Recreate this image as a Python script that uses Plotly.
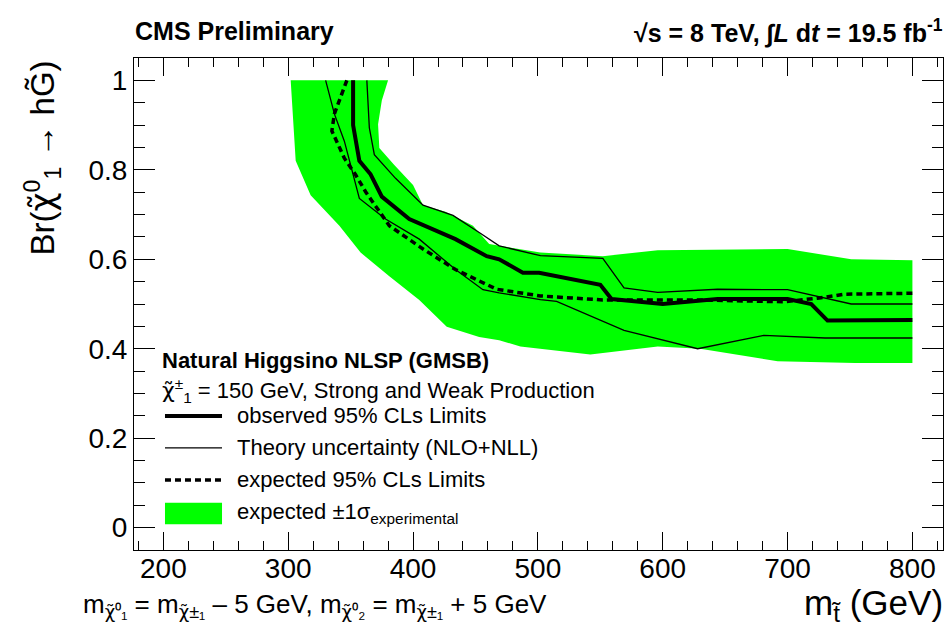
import plotly.graph_objects as go

# ---- data ----
# expected +-1 sigma band: lower/left edge (left -> right) and upper/right edge (right -> left)
band_lo_x = [302, 304.5, 306, 318, 341, 358, 381, 405, 427, 453, 469, 486, 502, 542, 596, 630, 692, 754, 800]
band_lo_y = [1.0, 0.887, 0.82, 0.743, 0.675, 0.615, 0.562, 0.509, 0.449, 0.426, 0.419, 0.405, 0.40, 0.387, 0.405, 0.40, 0.372, 0.368, 0.368]
band_hi_x = [800, 751, 700, 596, 552, 502, 480, 461, 448, 426, 408, 400, 385, 373, 372, 375, 380]
band_hi_y = [0.598, 0.60, 0.623, 0.620, 0.607, 0.615, 0.626, 0.634, 0.675, 0.706, 0.721, 0.766, 0.811, 0.849, 0.902, 0.955, 1.0]

# observed 95% CLs limit
obs_x = [352, 352, 357, 366, 375, 397, 434, 459, 469, 488, 501, 550, 559, 600, 644, 700, 719, 732, 800]
obs_y = [1.0, 0.90, 0.82, 0.79, 0.74, 0.69, 0.645, 0.607, 0.60, 0.57, 0.57, 0.543, 0.511, 0.50, 0.511, 0.511, 0.50, 0.463, 0.464]

# theory uncertainty (upper / lower)
thu_x = [363, 365, 369, 386, 408, 432, 453, 464, 469, 502, 552, 569, 596, 644, 700, 751, 800]
thu_y = [1.0, 0.894, 0.834, 0.781, 0.721, 0.698, 0.66, 0.638, 0.63, 0.608, 0.602, 0.536, 0.526, 0.533, 0.532, 0.50, 0.50]
thl_x = [330, 337, 345, 357, 378, 405, 434, 456, 469, 502, 515, 569, 628, 681, 730, 800]
thl_y = [1.0, 0.925, 0.864, 0.736, 0.69, 0.645, 0.577, 0.532, 0.525, 0.51, 0.506, 0.441, 0.40, 0.43, 0.424, 0.424]

# expected 95% CLs limit
exp_x = [347, 341, 337, 335, 345, 354, 362, 381, 408, 434, 467, 502, 552, 630, 697, 724, 746, 800]
exp_y = [1.0, 0.955, 0.925, 0.887, 0.826, 0.789, 0.751, 0.675, 0.623, 0.577, 0.533, 0.518, 0.509, 0.509, 0.505, 0.513, 0.522, 0.524]

x_range = [176.5, 824.5]
y_range = [-0.05, 1.05]

FONT = "Liberation Sans, Arial, Helvetica, sans-serif"
GREEN = "#00FF00"
CHI = '<span style="font-family:DejaVu Sans">χ̃</span>'

fig = go.Figure()

fig.add_trace(go.Scatter(
    x=band_lo_x + band_hi_x, y=band_lo_y + band_hi_y,
    mode="lines", fill="toself", fillcolor=GREEN,
    line=dict(width=0, color=GREEN), showlegend=False, hoverinfo="skip"))
fig.add_trace(go.Scatter(x=thu_x, y=thu_y, mode="lines",
                         line=dict(color="black", width=1.3), showlegend=False))
fig.add_trace(go.Scatter(x=thl_x, y=thl_y, mode="lines",
                         line=dict(color="black", width=1.3), showlegend=False))
fig.add_trace(go.Scatter(x=exp_x, y=exp_y, mode="lines",
                         line=dict(color="black", width=3.5, dash="6px,4px"), showlegend=False))
fig.add_trace(go.Scatter(x=obs_x, y=obs_y, mode="lines",
                         line=dict(color="black", width=4), showlegend=False))

# ---- hand-made legend (paper coordinates) ----
lx0, lx1, ltx = 0.0383, 0.1088, 0.1249
shapes = [
    dict(type="line", xref="paper", yref="paper", x0=lx0, x1=lx1, y0=0.2725, y1=0.2725,
         line=dict(color="black", width=4)),
    dict(type="line", xref="paper", yref="paper", x0=lx0, x1=lx1, y0=0.2074, y1=0.2074,
         line=dict(color="black", width=1.3)),
    dict(type="line", xref="paper", yref="paper", x0=lx0, x1=lx1, y0=0.1424, y1=0.1424,
         line=dict(color="black", width=3.5, dash="6px,4px")),
    dict(type="rect", xref="paper", yref="paper", x0=lx0, x1=lx1, y0=0.0523, y1=0.0962,
         line=dict(width=0), fillcolor=GREEN),
]
ann = []
def txt(x, y, s, size, xanchor="left", yanchor="middle", bold=False, angle=0):
    ann.append(dict(xref="paper", yref="paper", x=x, y=y, text=(f"<b>{s}</b>" if bold else s),
                    showarrow=False, xanchor=xanchor, yanchor=yanchor, textangle=angle,
                    font=dict(family=FONT, size=size, color="black")))

txt(0.0322, 0.385, "Natural Higgsino NLSP (GMSB)", 22, bold=True)
txt(0.0322, 0.325, f"{CHI}<sup>±</sup><sub>1</sub> = 150 GeV, Strong and Weak Production", 22)
txt(ltx, 0.2725, "observed 95% CLs Limits", 22)
txt(ltx, 0.2074, "Theory uncertainty (NLO+NLL)", 22)
txt(ltx, 0.1424, "expected 95% CLs Limits", 22)
txt(ltx, 0.0742, "expected ±1σ<sub>experimental</sub>", 22)

txt(-0.001, 1.054, "CMS Preliminary", 25, bold=True)
txt(1.003, 1.054, "√s = 8 TeV, ∫<i>L</i> d<i>t</i> = 19.5 fb<sup>-1</sup>", 25, xanchor="right", bold=True)

txt(-0.1125, 1.0, f"Br({CHI}<sup>0</sup><sub>1</sub> → hG̃)", 33, xanchor="center", yanchor="top", angle=-90)
txt(1.003, -0.112, "m<sub>t̃</sub> (GeV)", 35, xanchor="right")
txt(-0.0655, -0.112,
    f"m<sub>{CHI}⁰₁</sub> = m<sub>{CHI}±₁</sub> – 5 GeV, m<sub>{CHI}⁰₂</sub> = m<sub>{CHI}±₁</sub> + 5 GeV", 26)

axis_common = dict(showgrid=False, zeroline=False, showline=True, linecolor="black", linewidth=1,
                   mirror="allticks", ticks="inside", tickcolor="black", tickwidth=1,
                   tickfont=dict(family=FONT, size=28, color="black"))

fig.update_layout(
    width=947, height=641,
    margin=dict(l=134, r=4.3, t=58, b=91),
    paper_bgcolor="white", plot_bgcolor="white",
    font=dict(family=FONT, color="black"),
    xaxis=dict(range=x_range, tick0=0, dtick=100, ticklen=18, ticklabelstandoff=-7,
               minor=dict(dtick=20, ticks="inside", ticklen=9, tickcolor="black", showgrid=False),
               **axis_common),
    yaxis=dict(range=y_range, tick0=0, dtick=0.2, ticklen=21,
               minor=dict(dtick=0.05, ticks="inside", ticklen=11, tickcolor="black", showgrid=False),
               **axis_common),
    shapes=shapes, annotations=ann, showlegend=False,
)

fig.write_html("out.html", config={"displayModeBar": False},
               post_script="document.body.style.margin='0';document.body.style.padding='0';")
